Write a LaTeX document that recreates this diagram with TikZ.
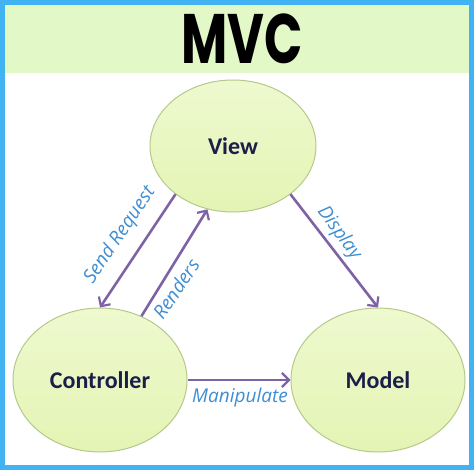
\documentclass[tikz,border=0pt]{standalone}
\usepackage{fontspec}
\setmainfont{Carlito}
\newfontfamily\titlefont{Poppins}
\newfontfamily\labelfont{Open Sans}
\usetikzlibrary{arrows.meta,shapes.geometric}
\definecolor{frameblue}{HTML}{41B3F2}
\definecolor{headgreen}{HTML}{E2F8C6}
\definecolor{elfill}{HTML}{E4F4B4}
\definecolor{eltop}{HTML}{EEF9CF}
\definecolor{elline}{HTML}{B5C98A}
\definecolor{arrowpurple}{HTML}{7F62A6}
\definecolor{labelblue}{HTML}{3E8ED3}
\definecolor{navy}{HTML}{1C1E4A}
\tikzset{
  comp/.style={ellipse, draw=elline, line width=1pt, top color=eltop, bottom color=elfill,
    inner sep=0pt, font=\fontsize{24}{28}\selectfont\bfseries, text=navy},
  conn/.style={draw=arrowpurple, line width=2.6pt, -{Straight Barb[length=7pt,width=14pt,line width=2.2pt]}},
  lbl/.style={font=\labelfont\itshape\fontsize{19}{22}\selectfont, text=labelblue, inner sep=1pt}
}
\begin{document}
\begin{tikzpicture}[x=1pt,y=-1pt]
\useasboundingbox (0,0) rectangle (474,470);
\fill[frameblue] (0,0) rectangle (474,470);
\fill[white] (5,5) rectangle (469,465);
\fill[headgreen] (5,5) rectangle (469,73);
\node[font=\titlefont\bfseries\fontsize{70}{70}\selectfont] (title) at (242,39) {\scalebox{0.72}[1]{MVC}};
\node[comp, minimum width=166pt, minimum height=132pt] (view) at (233,146) {View};
\node[comp, minimum width=174pt, minimum height=144pt] (ctrl) at (100,380) {Controller};
\node[comp, minimum width=174pt, minimum height=144pt] (model) at (378,380) {Model};
\draw[conn] (view.220) -- (ctrl.90);
\draw[conn] (ctrl.57) -- (view.248);
\draw[conn] (view.320) -- (model.90);
\draw[conn] (ctrl.east) -- (model.west);
\node[lbl, rotate=56] (lsend) at (120,235) {Send Request};
\node[lbl, rotate=56] (lrend) at (176,289) {Renders};
\node[lbl, rotate=-54] (ldisp) at (339,233) {Display};
\node[lbl] (lman) at (240,398) {Manipulate};
\end{tikzpicture}
\end{document}
